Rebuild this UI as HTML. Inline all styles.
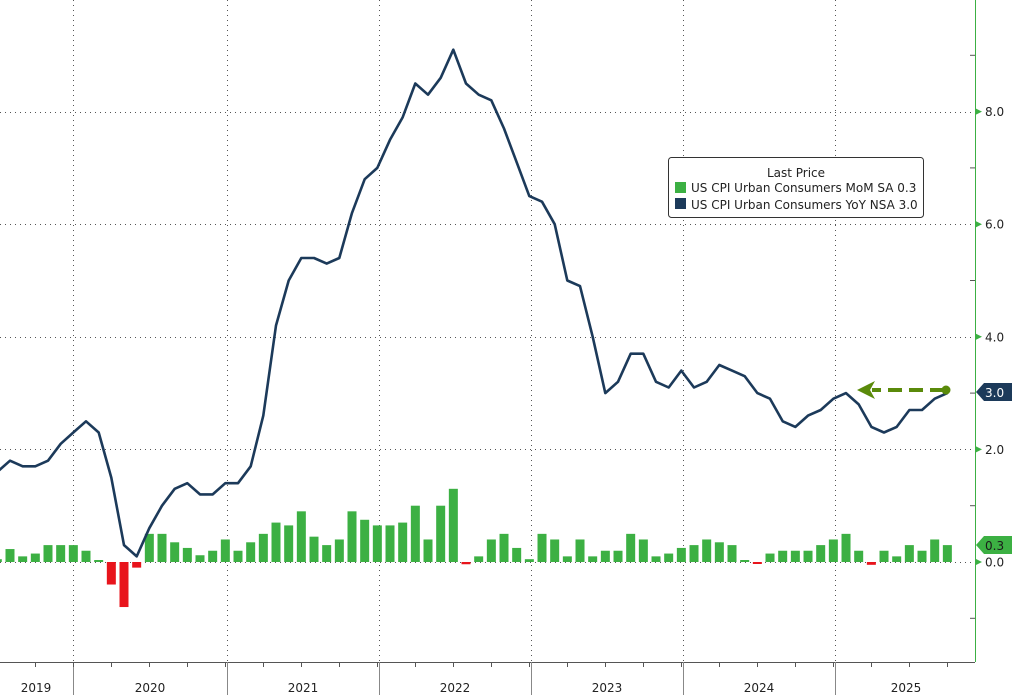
<!DOCTYPE html>
<html><head><meta charset="utf-8"><style>
html,body{margin:0;padding:0;background:#fff;width:1012px;height:695px;overflow:hidden}
svg{display:block;font-family:"DejaVu Sans","Liberation Sans",sans-serif}
</style></head><body>
<svg id="c" width="1012" height="695" viewBox="0 0 1012 695" xmlns="http://www.w3.org/2000/svg">
<g id="grid" stroke="#555" stroke-width="1" stroke-dasharray="1,4"></g>
<g id="bars"></g>
<polyline id="line" fill="none" stroke="#1c3a5a" stroke-width="2.6" stroke-linejoin="round"/>
<line x1="975.5" y1="0" x2="975.5" y2="662" stroke="#3cb043" stroke-width="1"/>
<line x1="0" y1="662.5" x2="975" y2="662.5" stroke="#555" stroke-width="1"/>
<g id="ax"></g>
<!-- arrow -->
<line x1="944" y1="390" x2="872" y2="390" stroke="#5a8a0a" stroke-width="4" stroke-dasharray="14,7"/>
<polygon points="857,390 875,381 870,390 875,399" fill="#5a8a0a"/>
<circle cx="946" cy="390" r="4.5" fill="#5a8a0a"/>
<!-- badges -->
<polygon points="976,392 984,383 1012,383 1012,401 984,401" fill="#1c3a5a"/>
<text x="985" y="397" font-size="12" fill="#fff">3.0</text>
<polygon points="976,545 984,536 1012,536 1012,554 984,554" fill="#3cb043"/>
<text x="985" y="550" font-size="12" fill="#1a1a1a">0.3</text>
<!-- legend -->
<rect x="668.5" y="157.5" width="255" height="60" rx="3" fill="#fff" stroke="#333"/>
<text x="796" y="177" font-size="12" text-anchor="middle" fill="#222">Last Price</text>
<rect x="675" y="182" width="11" height="11" fill="#3cb043"/>
<text x="691" y="192" font-size="12" fill="#222">US CPI Urban Consumers MoM SA  0.3</text>
<rect x="675" y="198" width="11" height="11" fill="#1c3a5a"/>
<text x="691" y="209" font-size="12" fill="#222">US CPI Urban Consumers YoY NSA 3.0</text>
</svg>
<script>
const NS="http://www.w3.org/2000/svg";
function el(p,t,a,txt){const e=document.createElementNS(NS,t);for(const k in a)e.setAttribute(k,a[k]);if(txt!==undefined)e.textContent=txt;document.getElementById(p).appendChild(e);return e;}
const Y=v=>562-v*56.3, X=m=>124+(m-15)*12.667;
// grid
[8,6,4,2,0].forEach(v=>el("grid","line",{x1:0,x2:975,y1:Math.round(Y(v))+.5,y2:Math.round(Y(v))+.5}));
const yl=[73,227,379,531,683,835];
yl.forEach(x=>el("grid","line",{x1:x+.5,x2:x+.5,y1:0,y2:662}));
// year separators below axis
yl.forEach(x=>el("ax","line",{x1:x+.5,x2:x+.5,y1:662,y2:695,stroke:"#888"}));
// quarter ticks
for(let x=73-152;x<975;x+=38){el("ax","line",{x1:x+.5,x2:x+.5,y1:662,y2:667,stroke:"#555"});}
const yrs=["2019","2020","2021","2022","2023","2024","2025"];
const cx=[36,150,303,455,607,759,906];
yrs.forEach((t,i)=>el("ax","text",{x:cx[i],y:692,"font-size":12,"text-anchor":"middle",fill:"#222"},t));
// y labels
[[8,"8.0"],[6,"6.0"],[4,"4.0"],[2,"2.0"],[0,"0.0"]].forEach(([v,t])=>{const y=Y(v);
el("ax","polygon",{points:`976,${y-3} 982,${y} 976,${y+3}`,fill:"#3cb043"});
el("ax","text",{x:985,y:y+4.5,"font-size":12,fill:"#222"},t);});
[9,7,5,3,1,-1].forEach(v=>el("ax","line",{x1:970,x2:975,y1:Y(v),y2:Y(v),stroke:"#555"}));
// YoY from Jun 2019 (m=5)
const yoy=[1.6,1.8,1.7,1.7,1.8,2.1,2.3,
2.5,2.3,1.5,0.3,0.1,0.6,1.0,1.3,1.4,1.2,1.2,1.4,
1.4,1.7,2.6,4.2,5.0,5.4,5.4,5.3,5.4,6.2,6.8,7.0,
7.5,7.9,8.5,8.3,8.6,9.1,8.5,8.3,8.2,7.7,7.1,6.5,
6.4,6.0,5.0,4.9,4.0,3.0,3.2,3.7,3.7,3.2,3.1,3.4,
3.1,3.2,3.5,3.4,3.3,3.0,2.9,2.5,2.4,2.6,2.7,2.9,
3.0,2.8,2.4,2.3,2.4,2.7,2.7,2.9,3.0];
document.getElementById("line").setAttribute("points",yoy.map((v,i)=>X(i+5).toFixed(1)+","+Y(v).toFixed(1)).join(" "));
const mom=[0.05,0.23,0.1,0.15,0.3,0.3,0.3,
0.2,0.03,-0.4,-0.8,-0.1,0.5,0.5,0.35,0.25,0.12,0.2,0.4,
0.2,0.35,0.5,0.7,0.65,0.9,0.45,0.3,0.4,0.9,0.75,0.65,
0.65,0.7,1.0,0.4,1.0,1.3,-0.04,0.1,0.4,0.5,0.25,0.05,
0.5,0.4,0.1,0.4,0.1,0.2,0.2,0.5,0.4,0.1,0.15,0.25,
0.3,0.4,0.35,0.3,0.02,-0.03,0.15,0.2,0.2,0.2,0.3,0.4,
0.5,0.2,-0.05,0.2,0.1,0.3,0.2,0.4,0.3];
mom.forEach((v,i)=>{const x=X(i+5)-4.5;const y0=562;let y=Y(v),h=Math.abs(y-y0);if(h<2)h=2;
el("bars","rect",{x:x,width:9,y:v>=0?y0-h:y0,height:h,fill:v>=0?"#3cb043":"#e8141c"});});
</script>
</body></html>
